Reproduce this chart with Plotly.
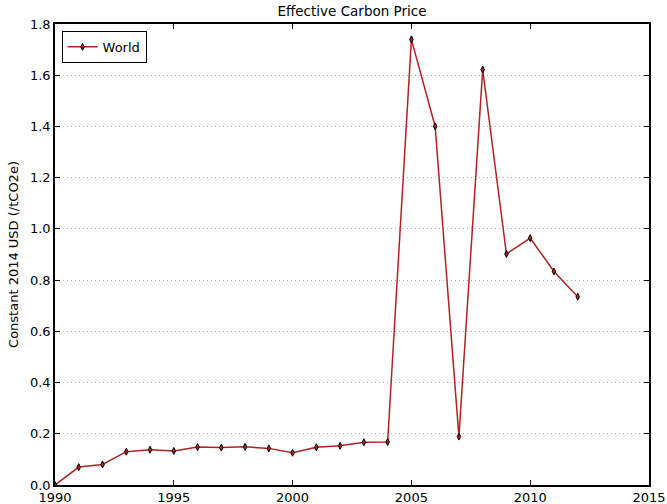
import plotly.graph_objects as go

years = list(range(1990, 2013))
price = [0.0, 0.070, 0.080, 0.130, 0.138, 0.133, 0.148, 0.146, 0.149, 0.143,
         0.126, 0.147, 0.153, 0.167, 0.168, 1.740, 1.400, 0.189, 1.622, 0.902,
         0.964, 0.834, 0.735]

font = "DejaVu Sans"
fig = go.Figure()
fig.add_trace(go.Scatter(
    x=years, y=price, name="World", mode="lines+markers",
    line=dict(color="#b22222", width=1.5),
    marker=dict(symbol="diamond-tall", size=5, color="#b22222",
                line=dict(color="black", width=1)),
))

axis_common = dict(showline=True, linecolor="black", linewidth=1.5, mirror="ticks",
                   ticks="inside", ticklen=5, tickcolor="black", zeroline=False,
                   automargin=False,
                   tickfont=dict(family=font, size=13, color="black"))

fig.update_layout(
    width=667, height=504,
    margin=dict(l=55, r=18, t=24, b=19),
    paper_bgcolor="white", plot_bgcolor="white",
    font=dict(family=font, size=13, color="black"),
    title=dict(text="Effective Carbon Price", x=0.5, xref="paper", y=0.977, yanchor="middle",
               font=dict(family=font, size=13.5, color="black")),
    showlegend=True,
    legend=dict(x=0.011, y=0.985, xanchor="left", yanchor="top", bordercolor="black",
                borderwidth=1, bgcolor="white", itemwidth=30,
                font=dict(family=font, size=13)),
    xaxis=dict(range=[1990, 2015], tickvals=[1990, 1995, 2000, 2005, 2010, 2015],
               showgrid=False, **axis_common),
    yaxis=dict(range=[0, 1.8], tickvals=[0, 0.2, 0.4, 0.6, 0.8, 1.0, 1.2, 1.4, 1.6, 1.8],
               tickformat=".1f", showgrid=True, gridcolor="#9fadc0", griddash="1px,3px",
               gridwidth=1, title=dict(text="Constant 2014 USD (/tCO2e)", standoff=8,
                                       font=dict(family=font, size=13)),
               **axis_common),
)

fig.write_html("out.html")
